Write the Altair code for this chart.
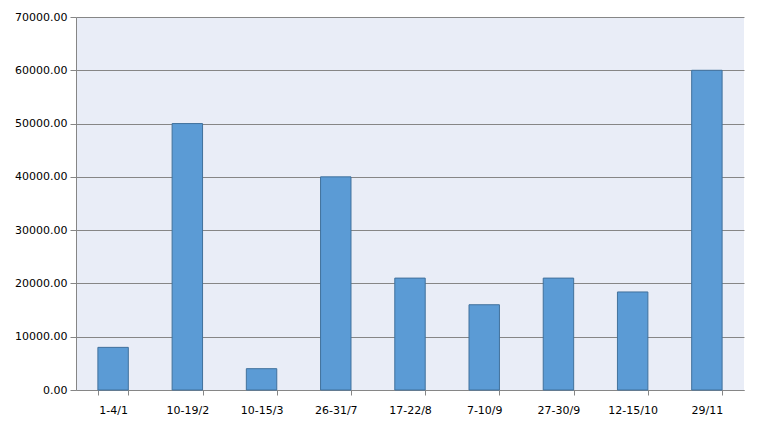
import altair as alt
import pandas as pd

categories = ["1-4/1", "10-19/2", "10-15/3", "26-31/7", "17-22/8", "7-10/9", "27-30/9", "12-15/10", "29/11"]
values = [8000, 50000, 4000, 40000, 21000, 16000, 21000, 18400, 60000]

df = pd.DataFrame({"cat": categories, "val": values})

font = "DejaVu Sans"

chart = alt.Chart(df).mark_bar(
    color="#5B9BD5", stroke="#41719C", strokeWidth=1
).encode(
    x=alt.X("cat:N", sort=categories, title=None,
            scale=alt.Scale(paddingInner=0.59, paddingOuter=0.295),
            axis=alt.Axis(labelAngle=0, tickBand="extent", tickSize=5, tickColor="#868686",
                          domainColor="#868686", labelPadding=9, labelFont=font,
                          labelFontSize=11, labelColor="#000000", grid=False)),
    y=alt.Y("val:Q", title=None,
            scale=alt.Scale(domain=[0, 70000], nice=False),
            axis=alt.Axis(values=list(range(0, 70001, 10000)), format=".2f", tickSize=6,
                          tickColor="#868686", domainColor="#868686", gridColor="#868686",
                          gridOpacity=1, labelPadding=3, labelFont=font, labelFontSize=11,
                          labelColor="#000000")),
).properties(
    width=668, height=373,
    background="#FFFFFF",
    autosize=alt.AutoSizeParams(type="none"),
    padding={"left": 68, "top": 9, "right": 12, "bottom": 31},
).configure_view(
    fill="#E9EDF7", stroke=None
)

chart.save("out.html", embed_options={"renderer": "svg", "actions": False})
